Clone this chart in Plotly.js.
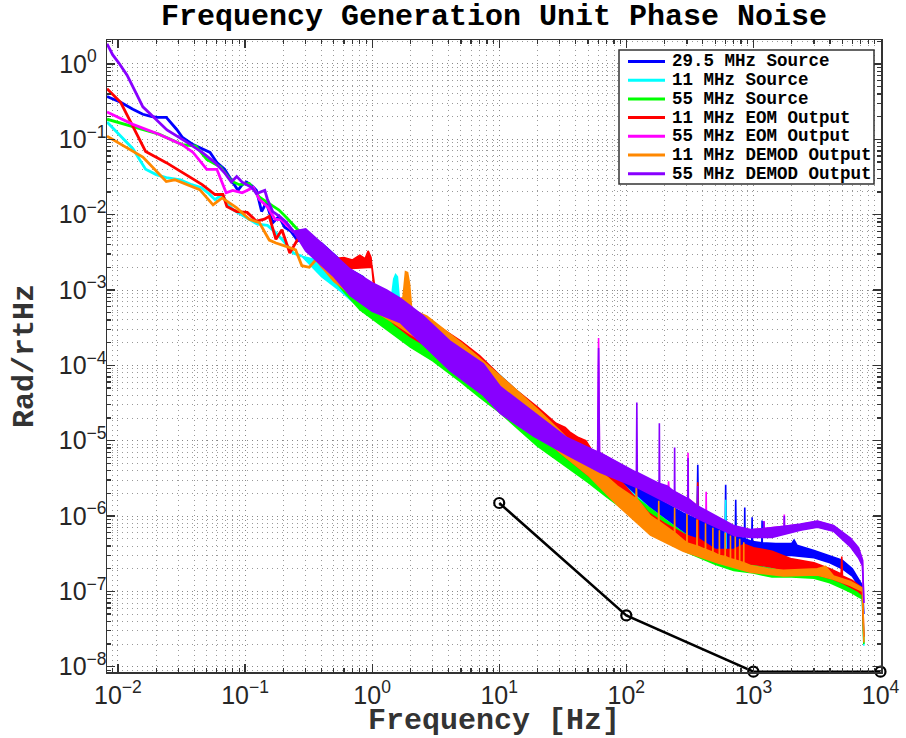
<!DOCTYPE html>
<html><head><meta charset="utf-8">
<script src="https://cdn.plot.ly/plotly-3.0.1.min.js"></script>
<style>html,body{margin:0;padding:0;background:#fff}#chart{width:906px;height:738px}</style>
</head><body><div id="chart"></div>
<script>
// ---------------- DATA ----------------
const seriesNames = ['29.5 MHz Source','11 MHz Source','55 MHz Source','11 MHz EOM Output','55 MHz EOM Output','11 MHz DEMOD Output','55 MHz DEMOD Output'];
const xTickVals = [0.01, 0.1, 1, 10, 100, 1000, 10000];
const xTickText = ['10<sup>\u22122</sup>','10<sup>\u22121</sup>','10<sup>0</sup>','10<sup>1</sup>','10<sup>2</sup>','10<sup>3</sup>','10<sup>4</sup>'];
const yTickVals = [1e-8, 1e-7, 1e-6, 1e-5, 1e-4, 1e-3, 1e-2, 1e-1, 1];
const yTickText = ['10<sup>\u22128</sup>','10<sup>\u22127</sup>','10<sup>\u22126</sup>','10<sup>\u22125</sup>','10<sup>\u22124</sup>','10<sup>\u22123</sup>','10<sup>\u22122</sup>','10<sup>\u22121</sup>','10<sup>0\u00a0\u00a0</sup>'];

// 29.5 MHz Source (blue)
const blueLineF = [0.0082,0.0105,0.0131,0.0157,0.0185,0.0205,0.024,0.029,0.032,0.039,0.046,0.053,0.06,0.069,0.08,0.088,0.095,0.103,0.114,0.123,0.135,0.147,0.165,0.185,0.205,0.23,0.26,0.3];
const blueLineV = [0.37,0.31,0.25,0.215,0.2,0.195,0.195,0.135,0.107,0.085,0.075,0.067,0.049,0.04,0.027,0.021,0.025,0.027,0.024,0.021,0.011,0.0145,0.0078,0.0095,0.0068,0.006,0.0045,0.005];
const blueHiF = [0.3,0.4,0.55,0.7,0.85,1,1.3,1.7,2.2,3,4,5.5,7.5,10,14,20,30,45,65,100,150,200,280,360,365,370,450,600,605,610,720,726,732,850,855,860,970,977,984,1165,1170,1175,1500,2000,2090,2200,3000,4000,5000,6000,6700,7200,7400];
const blueHiV = [5e-3,4.2e-3,2.6e-3,1.8e-3,1.5e-3,1.1e-3,8.5e-4,6.5e-4,5e-4,3.6e-4,2.6e-4,1.8e-4,1.1e-4,6.5e-5,3.8e-5,2.4e-5,1.4e-5,9e-6,5.5e-6,3.4e-6,2e-6,1.5e-6,1.1e-6,9e-7,4.8e-6,9e-7,8e-7,6.5e-7,2.6e-6,6.5e-7,5.5e-7,1.65e-6,5.5e-7,5e-7,1.3e-6,5e-7,4.6e-7,9.6e-7,4.6e-7,4.4e-7,8.7e-7,4.4e-7,4.3e-7,4.3e-7,4.8e-7,4.1e-7,3.5e-7,3e-7,2.6e-7,2e-7,1.5e-7,1.2e-7,5e-8];
const blueLoF = [0.3,0.4,0.55,0.7,1,1.5,2,3,5,7,10,14,20,30,50,70,100,150,200,300,500,700,1000,1400,2000,3000,4000,5000,6000,6700,7200,7400];
const blueLoV = [5e-3,2.4e-3,1.5e-3,1e-3,5e-4,3e-4,2.1e-4,1.4e-4,7.5e-5,4.8e-5,3e-5,1.8e-5,1.1e-5,6.8e-6,3.8e-6,2.4e-6,1.5e-6,9e-7,7e-7,5e-7,3.5e-7,3e-7,2.9e-7,3e-7,3e-7,2.8e-7,2.4e-7,2e-7,1.6e-7,1.2e-7,1e-7,5e-8];

// 11 MHz Source (cyan)
const cyanLineF = [0.0082,0.0105,0.0131,0.0165,0.02,0.024,0.031,0.038,0.045,0.052,0.058,0.066,0.073,0.08,0.094,0.108,0.125,0.15,0.17,0.2,0.24,0.28];
const cyanLineV = [0.17,0.11,0.075,0.04,0.034,0.031,0.029,0.025,0.023,0.019,0.0158,0.0185,0.014,0.0117,0.01,0.0088,0.0075,0.0072,0.006,0.0045,0.0031,0.0028];
const cyanHiF = [0.28,0.4,0.55,0.7,1,1.3,1.42,1.48,1.53,1.58,1.65,2,3,5,7,10,14,20,30,50,70,100,150,200,300,500,600,605,610,700,1000,1400,1900,2100,2400,3000,4000,5000,6000,6700,7200,7400];
const cyanHiV = [2.8e-3,2.4e-3,1.7e-3,1.3e-3,9e-4,7e-4,8e-4,1.4e-3,1.6e-3,1.5e-3,6.5e-4,5e-4,3.5e-4,2e-4,1.3e-4,7.5e-5,4.5e-5,2.7e-5,1.5e-5,7e-6,4e-6,2.4e-6,1.3e-6,9e-7,5.5e-7,3.4e-7,3e-7,1.65e-6,3e-7,2.8e-7,2.4e-7,2.2e-7,2.3e-7,2.6e-7,2.3e-7,2e-7,1.7e-7,1.4e-7,1.2e-7,1.05e-7,9e-8,1.9e-8];
const cyanLoF = [0.28,0.4,0.55,0.7,1,1.5,2,3,5,7,10,14,20,30,50,70,100,150,200,300,500,700,1000,1400,2000,3000,4000,5000,6000,6700,7200,7400];
const cyanLoV = [2.8e-3,1.5e-3,1e-3,7e-4,4.5e-4,3e-4,2.2e-4,1.5e-4,8e-5,5.5e-5,3.2e-5,1.9e-5,1.1e-5,6.5e-6,3.2e-6,2e-6,1.3e-6,7e-7,5e-7,3.5e-7,2.4e-7,2e-7,1.8e-7,1.6e-7,1.7e-7,1.6e-7,1.4e-7,1.2e-7,1e-7,9e-8,8e-8,1.9e-8];

// 55 MHz Source (green)
const greenLineF = [0.0082,0.0131,0.021,0.032,0.041,0.05,0.064,0.078,0.09,0.108,0.13,0.155,0.185,0.21,0.26,0.3];
const greenLineV = [0.185,0.148,0.117,0.085,0.081,0.054,0.043,0.028,0.025,0.026,0.017,0.014,0.0115,0.0093,0.0063,0.0055];
const greenBandF = [0.3,0.44,0.6,0.8,1,1.5,2,3,5,7,10,14,20,30,50,70,100,150,200,300,500,700,1000,1400,2000,3000,4000,5000,6000,6700,7200,7400];
const greenHiV = [5.5e-3,3e-3,1.9e-3,1.2e-3,9e-4,5.5e-4,4e-4,2.8e-4,1.6e-4,1.05e-4,6e-5,3.5e-5,2.2e-5,1.3e-5,6e-6,3.6e-6,2.2e-6,1.3e-6,9e-7,5.5e-7,3.3e-7,2.6e-7,2.2e-7,2e-7,1.9e-7,1.8e-7,1.55e-7,1.3e-7,1.15e-7,1e-7,9e-8,2e-8];
const greenLoV = [5.5e-3,1.8e-3,9.5e-4,5.5e-4,4.2e-4,2.5e-4,1.75e-4,1.15e-4,6e-5,3.8e-5,2.4e-5,1.45e-5,8.5e-6,5.2e-6,2.8e-6,1.8e-6,1.15e-6,6.5e-7,4.8e-7,3.3e-7,2.3e-7,1.9e-7,1.75e-7,1.55e-7,1.55e-7,1.5e-7,1.3e-7,1.1e-7,9.5e-8,8.5e-8,8e-8,2e-8];

// 11 MHz EOM Output (red)
const redLineF = [0.0082,0.0105,0.0131,0.0165,0.024,0.032,0.046,0.058,0.067,0.072,0.086,0.104,0.123,0.142,0.155,0.175,0.195,0.225,0.265,0.3,0.37];
const redLineV = [0.47,0.31,0.148,0.069,0.049,0.036,0.025,0.0185,0.0185,0.0128,0.011,0.0107,0.0082,0.0087,0.0095,0.0047,0.0063,0.0031,0.005,0.0042,0.0034];
const redHiF = [0.37,0.49,0.6,0.7,0.8,0.88,0.93,0.98,1.03,1.2,1.4,2,3,5,7,10,14,20,28,33,36,42,48,55,70,100,150,200,300,360,365,370,500,700,850,1000,1200,1400,2000,3000,4000,4900,4960,5020,6000,6700,7200,7400];
const redHiV = [3.4e-3,2.6e-3,2.7e-3,2.5e-3,2.9e-3,2.6e-3,3.3e-3,2.7e-3,1.1e-3,9e-4,7e-4,5.2e-4,3.7e-4,2.1e-4,1.35e-4,7.5e-5,4.5e-5,2.8e-5,1.7e-5,1.5e-5,1.3e-5,1.1e-5,1e-5,7e-6,4.5e-6,2.4e-6,1.1e-6,8e-7,5.5e-7,5e-7,2.8e-6,5e-7,3.6e-7,3.6e-7,4.2e-7,3.8e-7,3.6e-7,3.4e-7,2.7e-7,2.4e-7,2e-7,1.7e-7,2.9e-7,1.6e-7,1.4e-7,1.2e-7,1.1e-7,2.5e-8];
const redLoF = [0.37,0.6,1,1.1,1.5,2,3,5,7,10,14,20,30,50,70,100,150,200,300,500,700,1000,1400,2000,3000,4000,5000,6000,6700,7200,7400];
const redLoV = [3.4e-3,1.9e-3,2e-3,6e-4,3.5e-4,2.4e-4,1.6e-4,8.5e-5,5.5e-5,3.3e-5,2e-5,1.2e-5,7e-6,3.5e-6,2.2e-6,1.4e-6,7e-7,5e-7,3.6e-7,2.6e-7,2.4e-7,2.3e-7,2.1e-7,1.8e-7,1.7e-7,1.5e-7,1.3e-7,1.1e-7,1e-7,9e-8,2.5e-8];

// 55 MHz EOM Output (magenta)
const magentaLineF = [0.0082,0.0131,0.021,0.032,0.039,0.05,0.06,0.071,0.08,0.095,0.116,0.13,0.15,0.172,0.193,0.24,0.29];
const magentaLineV = [0.23,0.158,0.117,0.085,0.067,0.04,0.04,0.0195,0.021,0.0195,0.023,0.0158,0.0128,0.0087,0.0085,0.006,0.005];
const magentaHiF = [0.29,0.4,0.67,1,1.66,2.5,4.1,7.5,10.2,18.6,34,59.5,60.5,61.5,100,121,210,213,215,217,300,304,306,308,383,423,425,427,710,946,1205,1210,1215,1745,1750,1755,2345,3190,4270,5800,6710,7220,7400];
const magentaHiV = [5e-3,3.8e-3,1.8e-3,1.2e-3,7.5e-4,4.4e-4,2e-4,1e-4,5e-5,2.3e-5,1.05e-5,7e-6,2.3e-4,7e-6,4.3e-6,3.6e-6,2.4e-6,2.3e-6,2.9e-6,2.3e-6,1.7e-6,1.7e-6,6.9e-6,1.7e-6,1.25e-6,1.1e-6,2.1e-6,1.1e-6,7.2e-7,6.5e-7,6.8e-7,8.6e-7,6.8e-7,7.3e-7,1.05e-6,7.3e-7,7.7e-7,8.5e-7,7.4e-7,5e-7,3.7e-7,2.6e-7,7e-8];
const magentaLoF = [0.29,0.4,0.67,1,1.66,4.1,7.5,10.2,18.6,34,62,121,210,383,710,946,1400,2345,3190,4270,5800,6710,7220,7400];
const magentaLoV = [5e-3,2e-3,9e-4,5.5e-4,3.8e-4,9e-5,4.2e-5,2.4e-5,1.2e-5,6.8e-6,4e-6,2.5e-6,1.6e-6,9.5e-7,5.8e-7,5.4e-7,5.4e-7,6.7e-7,7.2e-7,6.4e-7,4e-7,2.9e-7,2.2e-7,7e-8];

// 11 MHz DEMOD Output (orange)
const orangeLineF = [0.0082,0.0157,0.024,0.028,0.044,0.056,0.066,0.086,0.108,0.13,0.155,0.175,0.21,0.25,0.28,0.32,0.36];
const orangeLineV = [0.11,0.058,0.0275,0.029,0.0215,0.0135,0.0167,0.0123,0.0087,0.0078,0.0046,0.0042,0.0038,0.0034,0.0021,0.002,0.0025];
const orangeHiF = [0.36,0.5,0.7,1,1.4,1.75,1.83,1.9,1.97,2.05,2.7,3.5,5,7,10,14,20,30,50,85,119,120,121,155,179,180,181,239,240,241,281,299,300,301,359,360,361,419,420,421,479,480,481,520,539,540,541,599,600,601,659,660,661,719,720,721,779,780,781,839,840,841,946,1300,1720,3190,3700,4270,5800,7220,7400];
const orangeHiV = [2.5e-3,2.2e-3,1.5e-3,9e-4,6.5e-4,8e-4,1.75e-3,1.7e-3,1.2e-3,5.5e-4,4.5e-4,3.2e-4,2e-4,1.25e-4,7.5e-5,4.5e-5,2.6e-5,1.35e-5,5.5e-6,2.5e-6,1.7e-6,2.6e-6,1.7e-6,1e-6,8.5e-7,1.6e-6,8.5e-7,6e-7,1.3e-6,6e-7,4.8e-7,4.4e-7,1.1e-6,4.4e-7,4e-7,9e-7,4e-7,3.6e-7,8e-7,3.6e-7,3.3e-7,7e-7,3.3e-7,3.1e-7,3e-7,6.5e-7,3e-7,2.9e-7,6e-7,2.9e-7,2.7e-7,5.5e-7,2.7e-7,2.6e-7,5.5e-7,2.6e-7,2.5e-7,5e-7,2.5e-7,2.4e-7,4.5e-7,2.4e-7,2.2e-7,2e-7,1.9e-7,2e-7,2.15e-7,1.6e-7,1.35e-7,1.1e-7,2.1e-8];
const orangeLoF = [0.36,0.5,0.7,1,1.5,2,3,5,7,10,14,20,30,50,85,155,281,520,946,1720,3190,4270,5800,7220,7400];
const orangeLoV = [2.5e-3,1.3e-3,8.5e-4,5.5e-4,3.6e-4,2.6e-4,1.75e-4,9.5e-5,6e-5,3.6e-5,2.2e-5,1.3e-5,7e-6,3.5e-6,1.4e-6,5.6e-7,3.4e-7,2.4e-7,1.8e-7,1.6e-7,1.65e-7,1.45e-7,1.2e-7,1e-7,2.1e-8];

// 55 MHz DEMOD Output (purple)
const purpleLineF = [0.0082,0.0091,0.0103,0.0118,0.0141,0.0157,0.0195,0.0243,0.035,0.046,0.058,0.069,0.078,0.086,0.095,0.113,0.123,0.143,0.15,0.165,0.188,0.21,0.24];
const purpleLineV = [1.85,1.32,1.0,0.71,0.39,0.27,0.19,0.133,0.091,0.067,0.049,0.036,0.027,0.032,0.027,0.023,0.019,0.021,0.016,0.011,0.0094,0.008,0.006];
const purpleHiF = [0.24,0.3,0.4,0.5,0.67,1,1.3,1.66,2.5,4.1,7.5,10.2,18.6,34,59.5,60.5,61.5,100,120,121,122,181,182,183,210,239,240,241,305,306,307,364,365,366,383,710,946,1205,1210,1215,1745,1750,1755,2345,3190,4270,5800,6710,7220,7400];
const purpleHiV = [6e-3,6.5e-3,4.2e-3,3e-3,1.9e-3,1.25e-3,1e-3,7.8e-4,4.6e-4,2.1e-4,1.05e-4,5.2e-5,2.4e-5,1.1e-5,7.1e-6,1.7e-4,7e-6,4.5e-6,3.8e-6,3.2e-5,3.8e-6,2.7e-6,1.7e-5,2.7e-6,2.5e-6,2.1e-6,8.1e-6,2.1e-6,1.7e-6,5.9e-6,1.7e-6,1.35e-6,2.5e-6,1.35e-6,1.3e-6,7.4e-7,6.6e-7,6.8e-7,8.5e-7,6.8e-7,7.3e-7,1e-6,7.3e-7,7.8e-7,8.6e-7,7.5e-7,5.1e-7,3.8e-7,2.6e-7,7e-8];
const purpleLoF = [0.24,0.3,0.4,0.5,0.67,1,1.66,2.5,4.1,7.5,10.2,18.6,34,62,121,210,383,710,946,1400,1800,2345,3190,4270,5800,6710,7220,7400];
const purpleLoV = [6e-3,3.3e-3,2.1e-3,1.5e-3,8.5e-4,5.2e-4,3.7e-4,1.9e-4,8.5e-5,4e-5,2.3e-5,1.15e-5,6.5e-6,3.8e-6,2.4e-6,1.5e-6,8.9e-7,5.5e-7,5.2e-7,5.2e-7,5.8e-7,6.5e-7,7.1e-7,6.3e-7,3.9e-7,2.8e-7,2.2e-7,7e-8];

// reference line (black, open circles)
const refF = [10, 100, 1000, 10000];
const refV = [1.49e-6, 4.8e-8, 8.6e-9, 8.6e-9];

// ---------------- STYLE ----------------
const seriesColors = ['#0000ff','#00ffff','#00ff00','#ff0000','#ff00ff','#ff8800','#8800ff'];
const series = [
  {lf: blueLineF, lv: blueLineV, hf: blueHiF, hv: blueHiV, of: blueLoF, ov: blueLoV},
  {lf: cyanLineF, lv: cyanLineV, hf: cyanHiF, hv: cyanHiV, of: cyanLoF, ov: cyanLoV},
  {lf: greenLineF, lv: greenLineV, hf: greenBandF, hv: greenHiV, of: greenBandF, ov: greenLoV},
  {lf: redLineF, lv: redLineV, hf: redHiF, hv: redHiV, of: redLoF, ov: redLoV},
  {lf: magentaLineF, lv: magentaLineV, hf: magentaHiF, hv: magentaHiV, of: magentaLoF, ov: magentaLoV},
  {lf: orangeLineF, lv: orangeLineV, hf: orangeHiF, hv: orangeHiV, of: orangeLoF, ov: orangeLoV},
  {lf: purpleLineF, lv: purpleLineV, hf: purpleHiF, hv: purpleHiV, of: purpleLoF, ov: purpleLoV}
];

const traces = [];
series.forEach((s, i) => {
  const c = seriesColors[i];
  traces.push({x: s.lf, y: s.lv, type: 'scatter', mode: 'lines', name: seriesNames[i],
    line: {color: c, width: 2.8}, showlegend: false, hoverinfo: 'skip'});
  traces.push({x: s.hf.concat(s.of.slice().reverse()), y: s.hv.concat(s.ov.slice().reverse()),
    type: 'scatter', mode: 'lines', fill: 'toself', fillcolor: c,
    line: {color: c, width: 1.6}, showlegend: false, hoverinfo: 'skip'});
});
traces.push({x: refF, y: refV, type: 'scatter', mode: 'lines+markers', cliponaxis: false,
  line: {color: '#000', width: 2.5}, marker: {symbol: 'circle-open', size: 10, color: '#000', line: {width: 2.2, color: '#000'}},
  showlegend: false, hoverinfo: 'skip'});

function minorTicks(d0, d1) { const v = []; for (let d = d0; d <= d1; d++) for (let k = 2; k <= 9; k++) v.push(k * Math.pow(10, d)); return v; }

// legend (drawn manually to match compact spacing)
const W = 906, H = 738, L = 107, R = 881, T = 40, B = 672;
const px = x => (x - L) / (R - L);
const py = y => (B - y) / (B - T);
const shapes = [{type: 'rect', xref: 'paper', yref: 'paper', x0: px(619), x1: px(874), y0: py(184), y1: py(50),
  fillcolor: '#fff', line: {color: '#333', width: 1.5}, layer: 'above'}];
const annotations = [];
seriesNames.forEach((n, i) => {
  const yy = 61.5 + i * 18.7;
  shapes.push({type: 'line', xref: 'paper', yref: 'paper', x0: px(628), x1: px(665), y0: py(yy), y1: py(yy),
    line: {color: seriesColors[i], width: 3}, layer: 'above'});
  annotations.push({xref: 'paper', yref: 'paper', x: px(670), y: py(yy), xanchor: 'left', yanchor: 'middle',
    text: n, showarrow: false, font: {family: 'Liberation Mono', size: 17.5, weight: 'bold', color: '#000'}});
});

const gridDash = '1px,4px';
const axisCommon = {
  type: 'log', showline: true, linecolor: '#333', linewidth: 1.5, mirror: 'allticks',
  ticks: 'inside', ticklen: 8, tickwidth: 1.2, tickcolor: '#333',
  showgrid: true, gridcolor: '#888', gridwidth: 1, griddash: gridDash, zeroline: false,
  tickmode: 'array',
  tickfont: {family: 'Liberation Sans', size: 25, color: '#262626'}
};

const layout = {
  width: W, height: H, paper_bgcolor: '#fff', plot_bgcolor: '#fff',
  margin: {l: L, r: W - R, t: T, b: H - B},
  showlegend: false,
  title: {text: 'Frequency Generation Unit Phase Noise', x: 0.5, xref: 'paper', xanchor: 'center',
    y: 1 - 14 / H, yref: 'container', yanchor: 'middle',
    font: {family: 'Liberation Mono', size: 30, weight: 'bold', color: '#000'}},
  xaxis: Object.assign({}, axisCommon, {
    range: [Math.log10(0.0082), 4.004], tickvals: xTickVals, ticktext: xTickText, ticklabelstandoff: 0,
    minor: {tickmode: 'array', tickvals: minorTicks(-3, 3), ticks: 'inside', ticklen: 4, tickcolor: '#333',
      showgrid: true, gridcolor: '#999', griddash: gridDash, gridwidth: 1},
    title: {text: 'Frequency [Hz]', standoff: 10, font: {family: 'Liberation Mono', size: 30, weight: 'bold', color: '#333'}}
  }),
  yaxis: Object.assign({}, axisCommon, {
    range: [-8.07, 0.318], tickvals: yTickVals, ticktext: yTickText, ticklabelstandoff: -6,
    minor: {tickmode: 'array', tickvals: minorTicks(-9, 0), ticks: 'inside', ticklen: 4, tickcolor: '#333',
      showgrid: true, gridcolor: '#999', griddash: gridDash, gridwidth: 1},
    title: {text: 'Rad/rtHz', standoff: 16, font: {family: 'Liberation Mono', size: 30, weight: 'bold', color: '#333'}}
  }),
  shapes: shapes,
  annotations: annotations
};

Plotly.newPlot('chart', traces, layout, {staticPlot: true, displayModeBar: false});
</script>
</body></html>
